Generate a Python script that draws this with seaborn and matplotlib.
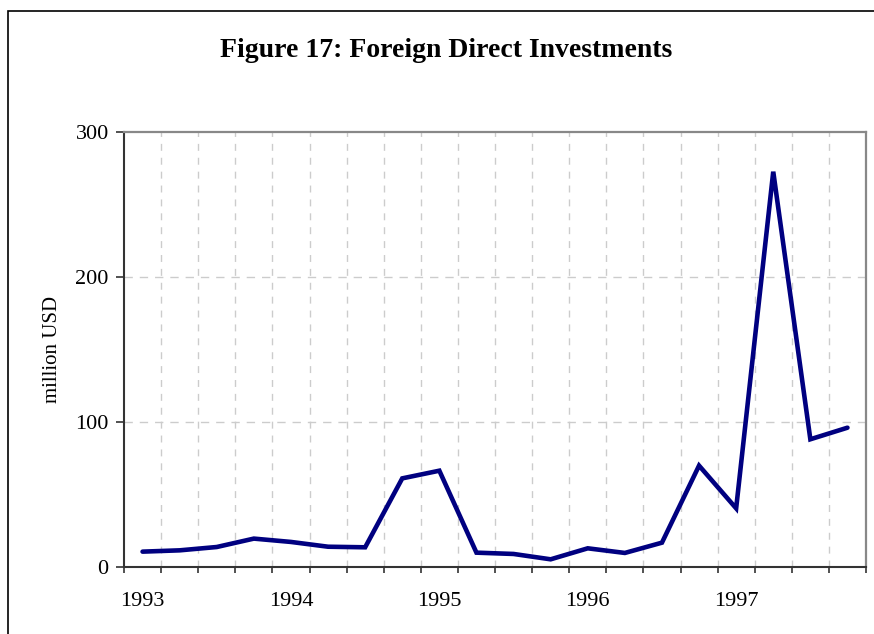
import matplotlib
matplotlib.use("Agg")
import matplotlib.pyplot as plt
import matplotlib.patches as mpatches
from matplotlib.ticker import FixedLocator, NullFormatter
import seaborn as sns
import pandas as pd

# ---- data ----
quarters = [f"{y} Q{q}" for y in range(1993, 1998) for q in range(1, 5)]
fdi = [10.4, 11.3, 13.6, 19.4,
       17.1, 13.8, 13.4, 61.0,
       66.3, 9.7, 8.8, 5.1,
       12.7, 9.5, 16.6, 69.8,
       40.3, 272.8, 88.0, 96.0]
year_labels = ["1993", "1994", "1995", "1996", "1997"]
y_ticks = [0, 100, 200, 300]
title = "Figure 17: Foreign Direct Investments"
y_label = "million USD"

df = pd.DataFrame({"quarter": quarters, "idx": range(len(quarters)), "fdi": fdi})

sns.set_theme(style="white")
plt.rcParams["font.family"] = ["Liberation Serif", "DejaVu Serif"]

W, H = 874, 634
fig = plt.figure(figsize=(W / 100, H / 100), dpi=100)
ax = fig.add_axes([124 / W, 1 - 566.7 / H, (866 - 124) / W, (566.7 - 132.3) / H])

sns.lineplot(data=df, x="idx", y="fdi", ax=ax, color="#000080", linewidth=3.3,
             solid_joinstyle="miter", legend=False)

n = len(quarters)
ax.set_xlim(-0.5, n - 0.5)
ax.set_ylim(0, 300)

# x: labels every 4th category, tick marks at category boundaries
ax.xaxis.set_major_locator(FixedLocator([i * 4 for i in range(len(year_labels))]))
ax.set_xticklabels(year_labels)
ax.xaxis.set_minor_locator(FixedLocator([i - 0.5 for i in range(n + 1)]))
ax.xaxis.set_minor_formatter(NullFormatter())
ax.tick_params(axis="x", which="major", length=0, pad=18, labelsize=16, colors="black")
ax.tick_params(axis="x", which="minor", bottom=True, direction="out", length=4,
               width=1.2, color="#333333")

ax.set_yticks(y_ticks)
ax.tick_params(axis="y", which="major", left=True, direction="out", length=6,
               width=1.2, color="#333333", pad=5, labelsize=16, labelcolor="black")

# grid
ax.grid(False)
for b in range(1, n):
    ax.axvline(b - 0.5, color="#cccccc", lw=1.0, dashes=(5, 5), zorder=0)
for yv in y_ticks[1:-1]:
    ax.axhline(yv, color="#cccccc", lw=1.0, dashes=(6, 5), zorder=0)

ax.set_xlabel("")
ax.set_ylabel(y_label, fontsize=15, color="black")
ax.yaxis.set_label_coords(-0.097, 0.5)
ax.yaxis.label.set_va("center")

for s in ["left", "bottom"]:
    ax.spines[s].set_color("#333333")
    ax.spines[s].set_linewidth(1.5)
for s in ["top", "right"]:
    ax.spines[s].set_color("#888888")
    ax.spines[s].set_linewidth(1.6)

fig.text(446 / W, 1 - 57 / H, title, ha="center", va="baseline",
         fontsize=20, fontweight="bold", color="black")

# outer chart-area frame (cropped at right and bottom)
fig.add_artist(mpatches.Rectangle((8 / W, -0.1), 1.2, 1 - 11 / H + 0.1,
                                  transform=fig.transFigure, fill=False,
                                  ec="black", lw=1.2))

fig.savefig("out.png", dpi=100, facecolor="white")
